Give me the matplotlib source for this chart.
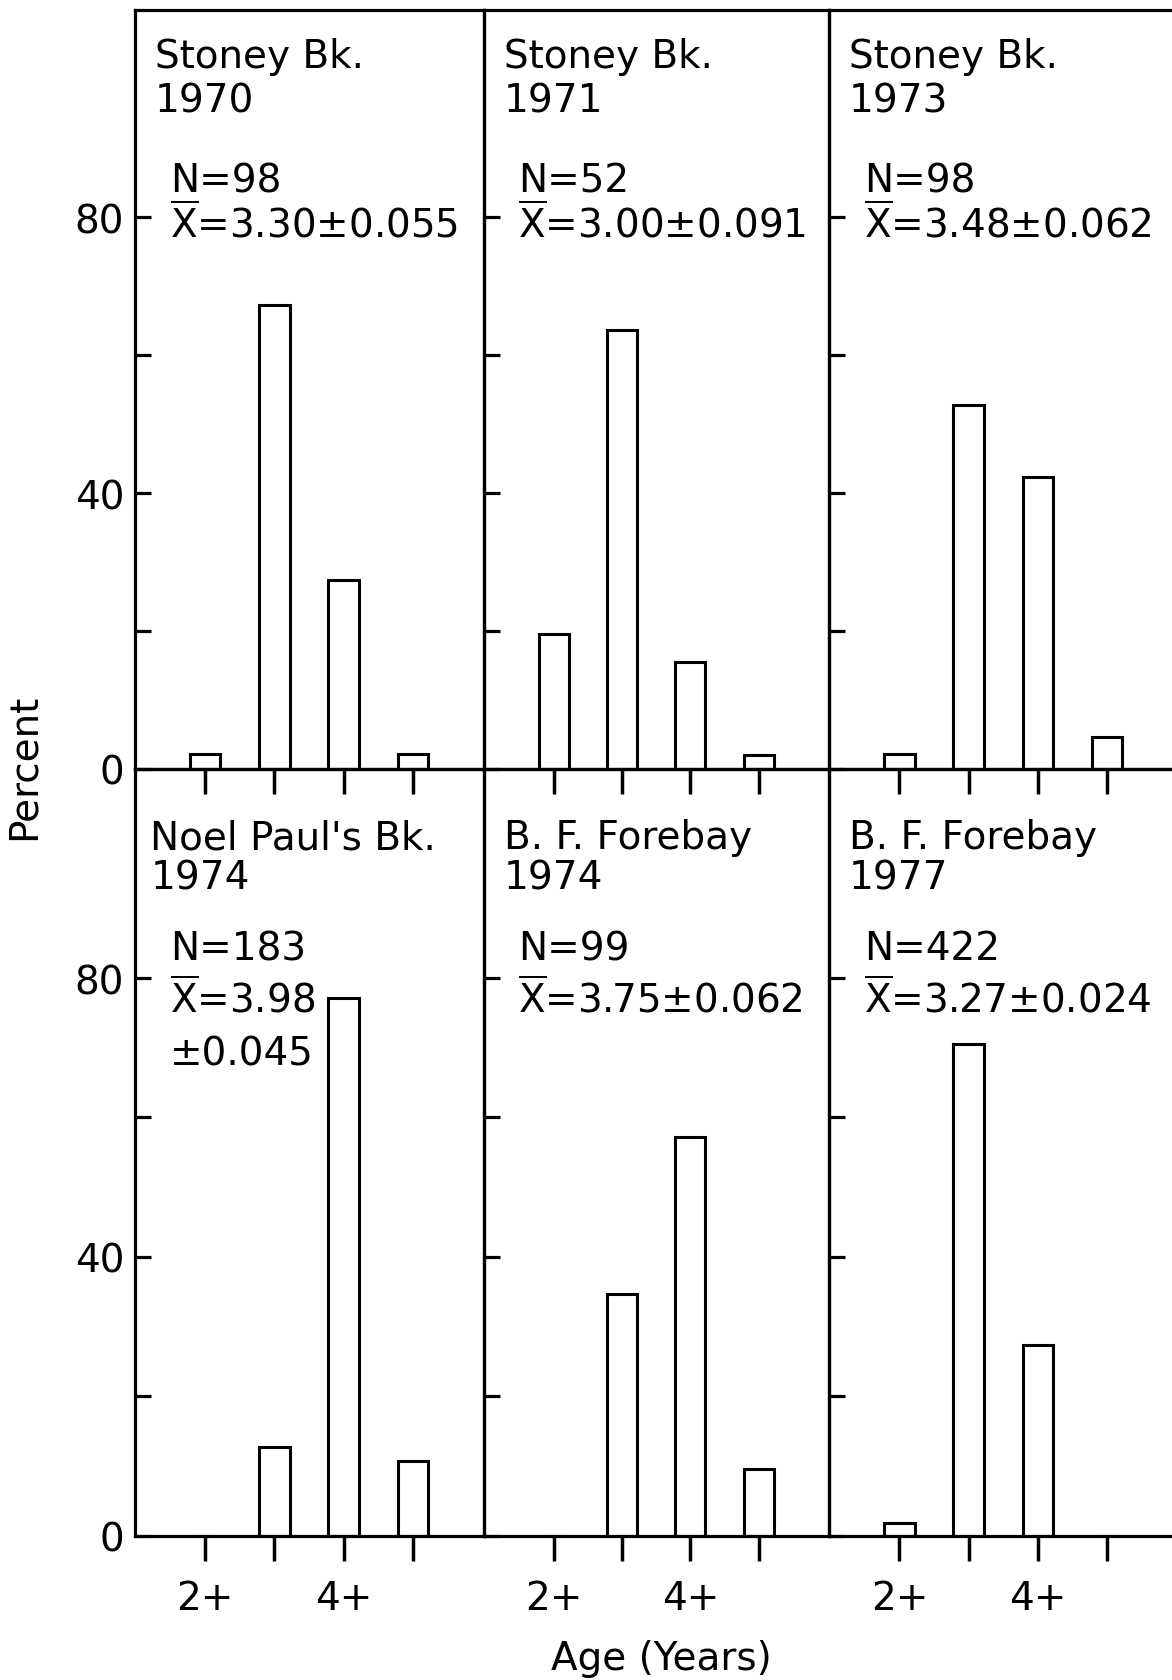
import matplotlib
matplotlib.use("Agg")
import matplotlib.pyplot as plt

plt.rcParams["font.family"] = ["DejaVu Sans"]
plt.rcParams["mathtext.fontset"] = "dejavusans"

# Age classes (years) and percent of catch per panel
AGES = [2, 3, 4, 5]
AGE_LABELS = ["2+", "", "4+", ""]

SITES = ["Stoney Bk.", "Stoney Bk.", "Stoney Bk.",
         "Noel Paul's Bk.", "B. F. Forebay", "B. F. Forebay"]
YEARS = ["1970", "1971", "1973", "1974", "1974", "1977"]
N_FISH = [98, 52, 98, 183, 99, 422]
MEANS = ["3.30", "3.00", "3.48", "3.98", "3.75", "3.27"]
SES = ["0.055", "0.091", "0.062", "0.045", "0.062", "0.024"]

PCT_1970 = [2.2, 67.2, 27.4, 2.2]
PCT_1971 = [19.6, 63.6, 15.5, 2.0]
PCT_1973 = [2.2, 52.7, 42.3, 4.6]
PCT_NOEL_1974 = [0.0, 12.7, 77.2, 10.7]
PCT_BF_1974 = [0.0, 34.7, 57.2, 9.6]
PCT_BF_1977 = [1.8, 70.6, 27.3, 0.0]
PERCENTS = [PCT_1970, PCT_1971, PCT_1973, PCT_NOEL_1974, PCT_BF_1974, PCT_BF_1977]

W, H = 1172, 1681
COL_EDGES = [134.7, 484, 829, 1178]
ROW_EDGES = [11, 770, 1536.5]
FS = 28
LW = 2.3

fig = plt.figure(figsize=(W / 100, H / 100), dpi=100)
fig.patch.set_facecolor("white")

for i in range(6):
    r, c = divmod(i, 3)
    x0, x1 = COL_EDGES[c], COL_EDGES[c + 1]
    y0, y1 = ROW_EDGES[r], ROW_EDGES[r + 1]
    ax = fig.add_axes([x0 / W, 1 - y1 / H, (x1 - x0) / W, (y1 - y0) / H])
    ax.set_facecolor("none")

    ax.bar(AGES, PERCENTS[i], width=0.44, color="white",
           edgecolor="black", linewidth=2.2, zorder=2)
    ax.set_xlim(0.98, 6.03)
    ax.set_ylim(0, 110)

    for sp in ax.spines.values():
        sp.set_linewidth(LW)

    ax.set_yticks([0, 40, 80])
    ax.set_yticks([20, 60], minor=True)
    ax.tick_params(axis="y", which="both", direction="in", length=11.5,
                   width=LW, labelsize=FS, pad=7.5, labelleft=(c == 0))

    ax.set_xticks(AGES)
    ax.tick_params(axis="x", direction="out", length=18, width=2.5,
                   labelsize=FS, pad=13)
    if r == 0:
        ax.tick_params(axis="x", labelbottom=False)
    else:
        ax.set_xticklabels(AGE_LABELS)

    # panel annotations
    if r == 0:
        ty, yy, ny, my = 0.964, 0.906, 0.801, 0.747
    else:
        ty, yy, ny, my = 0.936, 0.883, 0.791, 0.729
    tx = 0.045 if i == 3 else 0.057
    ax.text(tx, ty, SITES[i], transform=ax.transAxes, va="top", ha="left", fontsize=FS)
    ax.text(tx, yy, YEARS[i], transform=ax.transAxes, va="top", ha="left", fontsize=FS)
    ax.text(0.10, ny, f"N={N_FISH[i]}", transform=ax.transAxes,
            va="top", ha="left", fontsize=FS)
    xbar = r"$\overline{\mathrm{X}}$"
    if i == 3:
        ax.text(0.10, my, f"{xbar}={MEANS[i]}", transform=ax.transAxes,
                va="top", ha="left", fontsize=FS)
        ax.text(0.10, 0.653, f"±{SES[i]}", transform=ax.transAxes,
                va="top", ha="left", fontsize=FS)
    else:
        ax.text(0.10, my, f"{xbar}={MEANS[i]}±{SES[i]}", transform=ax.transAxes,
                va="top", ha="left", fontsize=FS)

fig.text(23.6 / W, 1 - 767 / H, "Percent", rotation=90, ha="center",
         va="center", fontsize=FS)
fig.text(661 / W, 1 - 1659 / H, "Age (Years)", ha="center", va="center", fontsize=FS)

fig.savefig("out.png", dpi=100, facecolor="white")
